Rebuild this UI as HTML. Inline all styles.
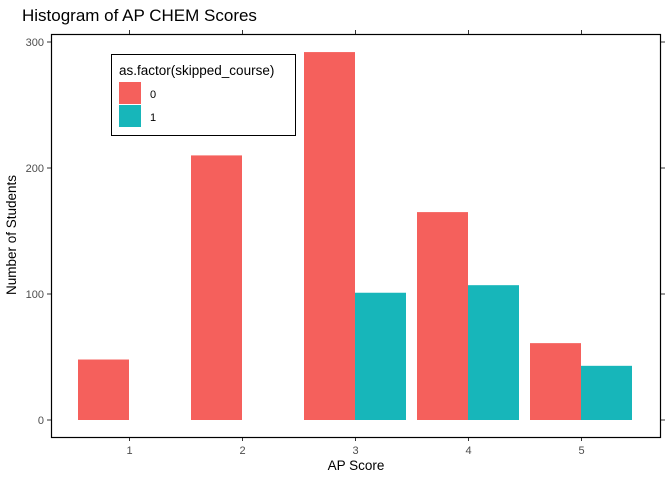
<!DOCTYPE html>
<html><head><meta charset="utf-8"><style>
body{margin:0;background:#fff;font-family:"Liberation Sans",sans-serif}
svg text{font-family:"Liberation Sans",sans-serif}
</style></head><body>
<svg width="672" height="480" id="c">
<text x="22" y="21" font-size="17" fill="#000">Histogram of AP CHEM Scores</text>
<text x="16" y="235" font-size="13.5" text-anchor="middle" transform="rotate(-90 16 235)">Number of Students</text>
<text x="356" y="470" font-size="13.5" text-anchor="middle">AP Score</text>
<g id="bars"></g>
<g id="axes"></g>
<rect x="51.5" y="34.5" width="609" height="403" fill="none" stroke="#000" stroke-width="1.2"/>
<g>
<rect x="111.5" y="54.5" width="184" height="81" fill="#fff" stroke="#000" stroke-width="1"/>
<text x="119" y="75" font-size="13.5">as.factor(skipped_course)</text>
<rect x="119" y="82" width="22" height="22" fill="#F5605C"/>
<text x="150" y="98" font-size="11">0</text>
<rect x="119" y="105" width="22" height="22" fill="#17B6BA"/>
<text x="150" y="121" font-size="11">1</text>
</g>
</svg>
<script>
const categories=[1,2,3,4,5];
const group0=[48,210,292,165,61];
const group1=[0,0,101,107,43];
const yTicks=[0,100,200,300];
const ns="http://www.w3.org/2000/svg";
function xs(k){return 129+113*(k-1);}
function ys(v){return 420-v*1.26;}
const bars=document.getElementById('bars'),axes=document.getElementById('axes');
function mk(t,a,p){const e=document.createElementNS(ns,t);for(const k in a)e.setAttribute(k,a[k]);p.appendChild(e);return e;}
categories.forEach((c,i)=>{
  if(group0[i]>0){const r=mk('rect',{x:xs(c)-51,y:ys(group0[i]),width:51,height:ys(0)-ys(group0[i]),fill:'#F5605C'},bars);
  
  }
  if(group1[i]>0){const r=mk('rect',{x:xs(c),y:ys(group1[i]),width:51,height:ys(0)-ys(group1[i]),fill:'#17B6BA'},bars);
  
  }
  const x=xs(c)+0.5;
  mk('line',{x1:x,x2:x,y1:437,y2:441,stroke:'#333'},axes);
  mk('line',{x1:x,x2:x,y1:30,y2:34,stroke:'#333'},axes);
  const t=mk('text',{x:x,y:454,'font-size':11,fill:'#4d4d4d','text-anchor':'middle'},axes);t.textContent=c;
  
  
});
yTicks.forEach(v=>{
  const y=ys(v);
  mk('line',{x1:47,x2:51,y1:y,y2:y,stroke:'#333'},axes);
  mk('line',{x1:661,x2:665,y1:y,y2:y,stroke:'#333'},axes);
  const t=mk('text',{x:44,y:y+4,'font-size':11,fill:'#4d4d4d','text-anchor':'end'},axes);t.textContent=v;
  
  
});
</script>
</body></html>
